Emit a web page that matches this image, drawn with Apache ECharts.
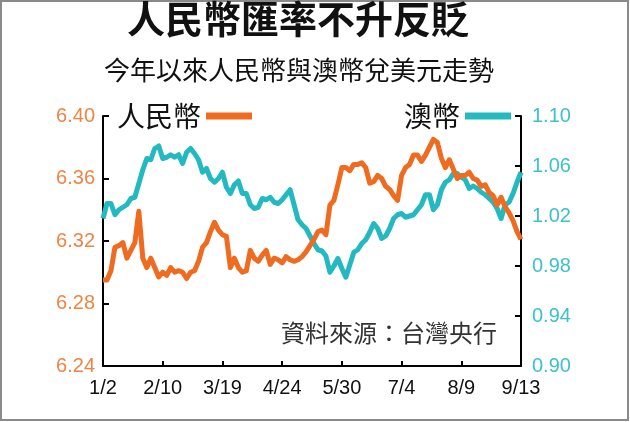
<!DOCTYPE html>
<html>
<head>
<meta charset="utf-8">
<script src="https://cdn.jsdelivr.net/npm/echarts@6/dist/echarts.min.js"></script>
<style>
  html, body { margin: 0; padding: 0; background: #fff; }
  #chart { width: 630px; height: 422px; }
</style>
</head>
<body>
<div id="chart"></div>
<script>
// x 軸刻度標籤（每 15 個交易日一個）
const tickLabels = ['1/2', '2/10', '3/19', '4/24', '5/30', '7/4', '8/9', '9/13']
const step = 15

// 人民幣兌美元
const cny = [
  6.295, 6.295, 6.301, 6.316, 6.317, 6.319, 6.309, 6.314, 6.319, 6.339,
  6.309, 6.303, 6.309, 6.303, 6.297, 6.300, 6.298, 6.303, 6.300, 6.301,
  6.300, 6.296, 6.300, 6.301, 6.307, 6.316, 6.319, 6.326, 6.332, 6.327,
  6.324, 6.323, 6.303, 6.309, 6.303, 6.300, 6.301, 6.314, 6.309, 6.307,
  6.311, 6.314, 6.305, 6.309, 6.308, 6.306, 6.310, 6.308, 6.307, 6.308,
  6.310, 6.313, 6.317, 6.321, 6.326, 6.327, 6.324, 6.343, 6.346, 6.356,
  6.367, 6.367, 6.365, 6.369, 6.369, 6.370, 6.367, 6.357, 6.358, 6.362,
  6.360, 6.355, 6.353, 6.349, 6.346, 6.362, 6.367, 6.369, 6.375, 6.375,
  6.371, 6.375, 6.380, 6.385, 6.383, 6.373, 6.367, 6.372, 6.366, 6.360,
  6.362, 6.362, 6.364, 6.360, 6.359, 6.355, 6.356, 6.351, 6.349, 6.343,
  6.348, 6.342, 6.338, 6.333, 6.326, 6.321
]

// 澳幣兌美元
const aud = [
  1.018, 1.030, 1.030, 1.021, 1.025, 1.027, 1.029, 1.034, 1.035, 1.046,
  1.057, 1.066, 1.065, 1.074, 1.076, 1.066, 1.067, 1.069, 1.067, 1.069,
  1.062, 1.071, 1.074, 1.070, 1.065, 1.055, 1.058, 1.050, 1.047, 1.050,
  1.055, 1.043, 1.038, 1.045, 1.048, 1.038, 1.038, 1.029, 1.026, 1.027,
  1.034, 1.033, 1.035, 1.031, 1.030, 1.033, 1.037, 1.041, 1.029, 1.017,
  1.013, 1.010, 1.004, 0.998, 0.993, 0.992, 0.988, 0.975, 0.980, 0.986,
  0.978, 0.971, 0.981, 0.991, 0.993, 0.998, 1.001, 1.007, 1.014, 1.010,
  1.002, 1.004, 1.010, 1.018, 1.021, 1.022, 1.019, 1.020, 1.021, 1.025,
  1.029, 1.037, 1.037, 1.025, 1.029, 1.041, 1.047, 1.049, 1.054, 1.054,
  1.051, 1.049, 1.042, 1.044, 1.042, 1.039, 1.037, 1.034, 1.031, 1.026,
  1.018, 1.029, 1.031, 1.038, 1.047, 1.055
]

const categories = cny.map((_, i) => (i % step === 0 ? tickLabels[i / step] : ''))

const cjk = '"Noto Sans CJK TC", "Noto Sans CJK SC", sans-serif'
const num = '"Liberation Sans", Arial, sans-serif'
const orange = '#EE6B20'
const teal = '#22B9C1'

const chart = echarts.init(document.getElementById('chart'))

chart.setOption({
  animation: false,
  backgroundColor: '#fff',
  title: [
    {
      text: '人民幣匯率不升反貶',
      left: 127,
      top: 0,
      padding: 0,
      textStyle: { fontFamily: cjk, fontSize: 38, fontWeight: 'bold', color: '#111' }
    },
    {
      text: '今年以來人民幣與澳幣兌美元走勢',
      left: 104,
      top: 57,
      padding: 0,
      textStyle: { fontFamily: cjk, fontSize: 26, fontWeight: 'normal', color: '#111' }
    }
  ],
  legend: [
    {
      data: ['人民幣'],
      left: 117,
      top: 102,
      padding: 0,
      align: 'right',
      icon: 'rect',
      itemWidth: 46,
      itemHeight: 7,
      selectedMode: false,
      textStyle: { fontFamily: cjk, fontSize: 28, color: '#111' }
    },
    {
      data: ['澳幣'],
      left: 404,
      top: 102,
      padding: 0,
      align: 'right',
      icon: 'rect',
      itemWidth: 46,
      itemHeight: 7,
      selectedMode: false,
      textStyle: { fontFamily: cjk, fontSize: 28, color: '#111' }
    }
  ],
  grid: { left: 103, right: 109, top: 116, bottom: 56 },
  xAxis: {
    type: 'category',
    data: categories,
    boundaryGap: false,
    axisLine: { lineStyle: { color: '#000', width: 2 } },
    axisTick: {
      inside: true,
      length: 5,
      interval: (i) => i % step === 0 && i > 0 && i < cny.length - 1,
      lineStyle: { color: '#000', width: 2 }
    },
    axisLabel: {
      interval: 0,
      margin: 12,
      fontFamily: num,
      fontSize: 20,
      color: '#111'
    },
    splitLine: { show: false }
  },
  yAxis: [
    {
      type: 'value',
      min: 6.24,
      max: 6.40,
      interval: 0.04,
      axisLine: { show: true, lineStyle: { color: '#000', width: 2 } },
      axisTick: { show: true, inside: true, length: 6, lineStyle: { color: '#000', width: 2 } },
      axisLabel: {
        margin: 8,
        fontFamily: num,
        fontSize: 20,
        color: '#F08443',
        formatter: (v) => v.toFixed(2)
      },
      splitLine: { show: false }
    },
    {
      type: 'value',
      position: 'right',
      min: 0.90,
      max: 1.10,
      interval: 0.04,
      axisLine: { show: true, lineStyle: { color: '#000', width: 2 } },
      axisTick: { show: true, inside: true, length: 6, lineStyle: { color: '#000', width: 2 } },
      axisLabel: {
        margin: 11,
        fontFamily: num,
        fontSize: 20,
        color: '#3CC2C9',
        formatter: (v) => v.toFixed(2)
      },
      splitLine: { show: false }
    }
  ],
  series: [
    {
      name: '澳幣',
      type: 'line',
      yAxisIndex: 1,
      data: aud,
      showSymbol: false,
      color: teal,
      lineStyle: { color: teal, width: 5, join: 'round' }
    },
    {
      name: '人民幣',
      type: 'line',
      yAxisIndex: 0,
      data: cny,
      showSymbol: false,
      color: orange,
      lineStyle: { color: orange, width: 5, join: 'round' }
    }
  ],
  graphic: [
    {
      type: 'text',
      left: 281,
      top: 321,
      style: { text: '資料來源：台灣央行', font: '24px ' + cjk, fill: '#333' }
    },
    {
      type: 'rect',
      shape: { x: 1, y: 1, width: 627, height: 419 },
      style: { fill: 'none', stroke: '#8a8a8a', lineWidth: 2 },
      silent: true
    }
  ]
})
</script>
</body>
</html>
